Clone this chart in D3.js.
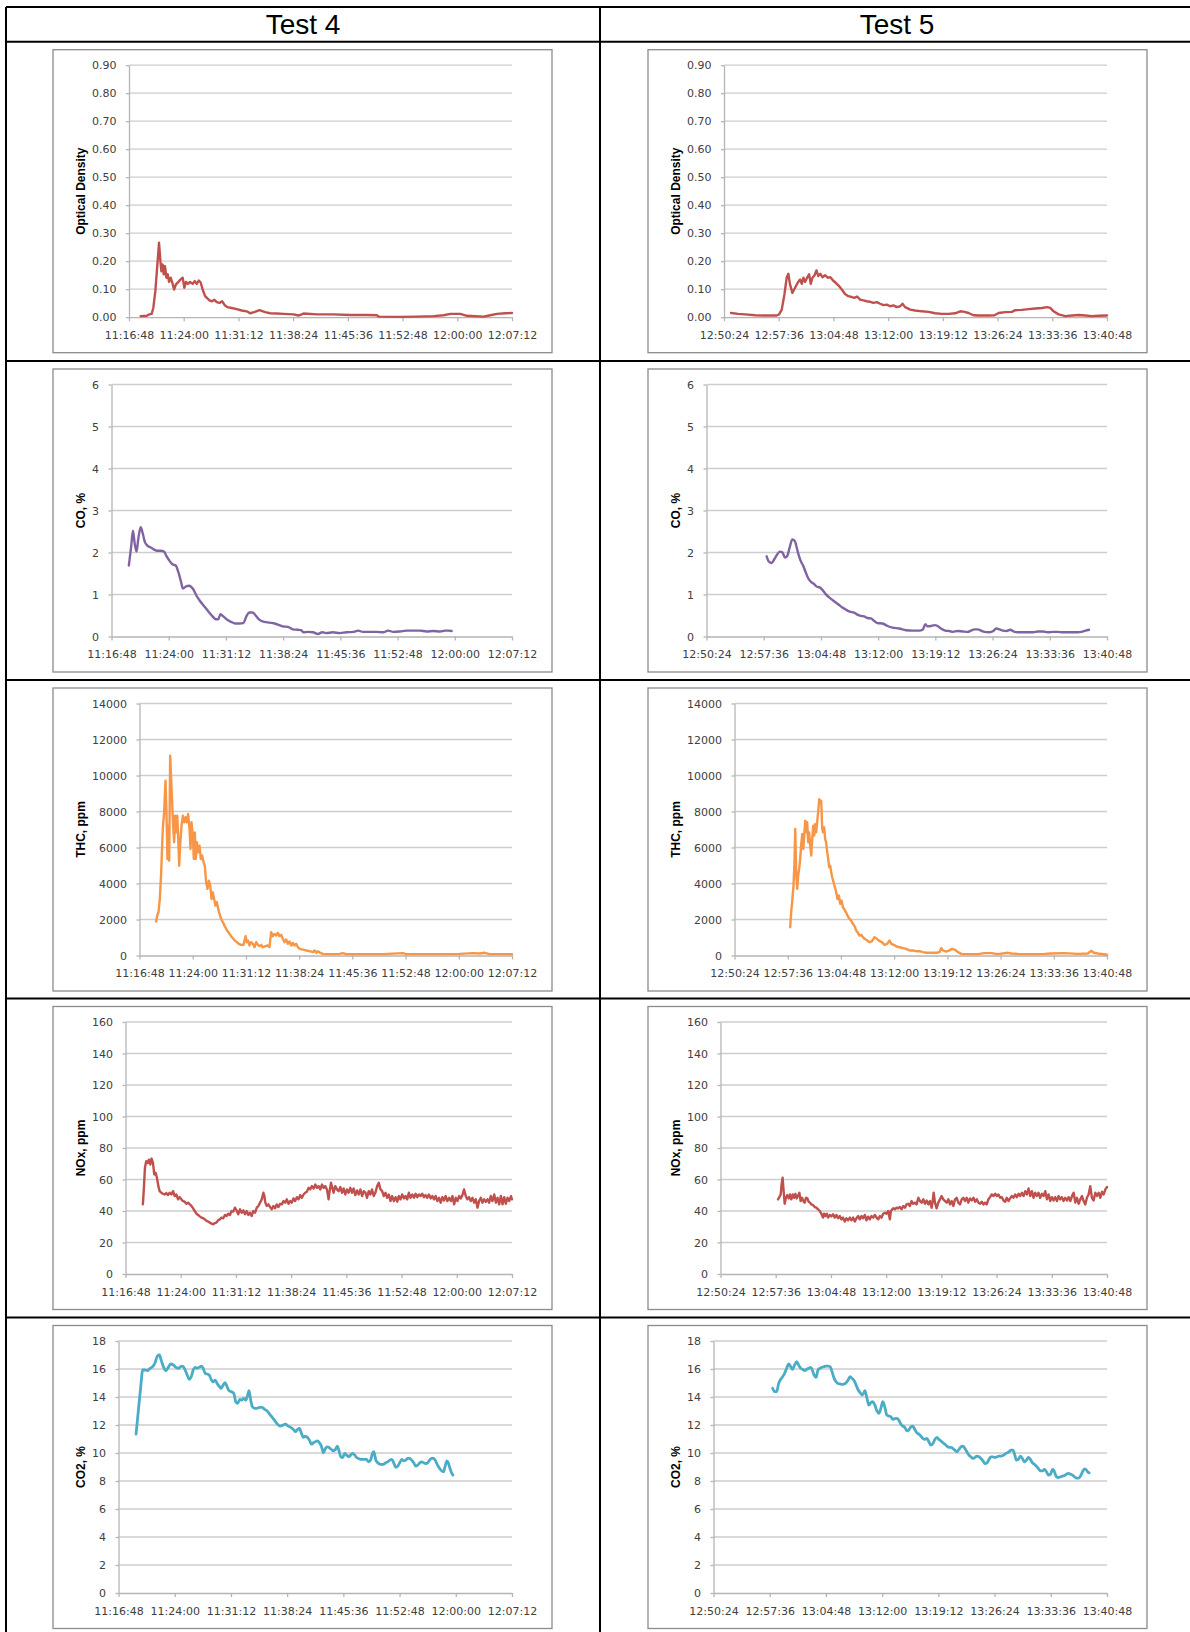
<!DOCTYPE html>
<html>
<head>
<meta charset="utf-8">
<script src="https://cdn.jsdelivr.net/npm/d3@7"></script>
<style>
  body { margin: 0; background: #fff; }
  svg { display: block; }
  .tick-label { font-family: "DejaVu Sans", sans-serif; font-size: 11px; fill: #404040; }
  .axis-title { font-family: "Liberation Sans", Arial, sans-serif; font-size: 12px; font-weight: bold; fill: #000; }
  .head { font-family: "Liberation Sans", Arial, sans-serif; font-size: 28px; fill: #000; }
</style>
</head>
<body>
<svg id="page" width="1190" height="1632"></svg>
<script>
// Emission test comparison - two tests side by side, five measured quantities
// Each series: [seconds after the axis start, value]

const testNames = ["Test 4", "Test 5"];
const testStarts = ["11:16:48", "12:50:24"];
const axisStepSec = 432;   // 7:12 between x ticks
const axisSteps = 7;

const rowLabels = ["Optical Density", "CO, %", "THC, ppm", "NOx, ppm", "CO2, %"];
const rowMax = [0.9, 6, 14000, 160, 18];
const rowStep = [0.1, 1, 2000, 20, 2];
const rowFormat = [".2f", "d", "d", "d", "d"];

const od4 = [[92,0.004],[140,0.005],[161,0.01],[179,0.012],[192,0.033],[208,0.093],[224,0.188],[237,0.266],[248,0.2],[256,0.164],[266,0.188],[274,0.153],[284,0.182],[295,0.141],[306,0.153],[316,0.126],[329,0.141],[342,0.123],[356,0.099],[371,0.117],[390,0.126],[408,0.135],[424,0.141],[437,0.105],[450,0.126],[466,0.119],[482,0.126],[503,0.119],[519,0.129],[535,0.119],[551,0.131],[566,0.124],[582,0.098],[601,0.075],[619,0.067],[635,0.06],[656,0.057],[674,0.062],[693,0.054],[714,0.051],[735,0.057],[756,0.043],[777,0.036],[811,0.033],[851,0.029],[890,0.024],[930,0.021],[956,0.014],[988,0.018],[1030,0.025],[1075,0.018],[1114,0.014],[1167,0.013],[1220,0.012],[1299,0.01],[1338,0.006],[1378,0.013],[1483,0.01],[1615,0.01],[1746,0.008],[1878,0.008],[1957,0.007],[1973,0.002],[2141,0.001],[2273,0.002],[2405,0.004],[2484,0.007],[2537,0.012],[2616,0.012],[2668,0.005],[2800,0.002],[2853,0.007],[2905,0.012],[2971,0.014],[3024,0.015]];

const od5 = [[55,0.015],[113,0.012],[166,0.01],[245,0.007],[324,0.006],[416,0.006],[435,0.01],[456,0.027],[477,0.081],[495,0.141],[508,0.155],[521,0.117],[540,0.087],[561,0.105],[582,0.123],[601,0.135],[614,0.119],[627,0.141],[640,0.126],[656,0.141],[672,0.153],[685,0.119],[698,0.141],[714,0.149],[730,0.167],[745,0.147],[761,0.155],[777,0.143],[798,0.15],[819,0.141],[840,0.143],[861,0.131],[882,0.123],[903,0.114],[930,0.099],[956,0.083],[982,0.075],[1009,0.072],[1030,0.069],[1051,0.074],[1075,0.063],[1101,0.06],[1127,0.057],[1154,0.055],[1180,0.051],[1206,0.054],[1233,0.048],[1259,0.043],[1285,0.045],[1312,0.039],[1338,0.042],[1364,0.036],[1391,0.039],[1409,0.048],[1430,0.036],[1470,0.027],[1509,0.024],[1562,0.021],[1615,0.019],[1667,0.014],[1720,0.012],[1773,0.012],[1825,0.014],[1865,0.021],[1891,0.02],[1931,0.015],[1970,0.007],[2010,0.006],[2089,0.006],[2136,0.007],[2168,0.015],[2220,0.018],[2273,0.019],[2300,0.025],[2352,0.026],[2405,0.029],[2458,0.031],[2510,0.033],[2550,0.036],[2576,0.033],[2602,0.021],[2642,0.01],[2695,0.004],[2747,0.006],[2800,0.008],[2853,0.006],[2905,0.004],[2958,0.005],[3024,0.006]];

const co4 = [[131,1.69],[149,2.16],[162,2.52],[174,2.24],[189,2.02],[202,2.32],[220,2.6],[237,2.44],[253,2.24],[273,2.16],[296,2.12],[321,2.07],[346,2.04],[371,2.04],[397,2.02],[414,1.92],[434,1.82],[460,1.72],[485,1.69],[505,1.53],[523,1.33],[540,1.14],[561,1.19],[586,1.21],[616,1.13],[642,0.97],[667,0.85],[700,0.72],[733,0.59],[763,0.48],[788,0.41],[806,0.41],[823,0.53],[844,0.48],[869,0.41],[902,0.35],[935,0.31],[965,0.31],[995,0.32],[1020,0.49],[1040,0.57],[1066,0.57],[1091,0.49],[1116,0.4],[1154,0.35],[1192,0.33],[1230,0.31],[1268,0.27],[1293,0.24],[1331,0.23],[1369,0.17],[1407,0.16],[1432,0.15],[1450,0.1],[1483,0.11],[1521,0.1],[1559,0.06],[1591,0.1],[1621,0.08],[1672,0.1],[1723,0.08],[1773,0.1],[1824,0.11],[1862,0.14],[1899,0.11],[1950,0.11],[2001,0.11],[2051,0.1],[2089,0.14],[2127,0.11],[2177,0.12],[2228,0.14],[2278,0.14],[2329,0.14],[2379,0.12],[2430,0.13],[2480,0.12],[2518,0.14],[2543,0.14],[2568,0.13]];

const co5 = [[454,1.91],[472,1.78],[492,1.75],[512,1.84],[535,1.96],[555,2.02],[573,2.0],[593,1.88],[610,1.92],[628,2.12],[648,2.31],[666,2.28],[678,2.16],[694,1.96],[711,1.8],[729,1.69],[749,1.53],[769,1.38],[789,1.3],[812,1.25],[830,1.19],[855,1.17],[875,1.11],[900,1.01],[926,0.93],[951,0.87],[976,0.81],[1001,0.75],[1026,0.69],[1052,0.64],[1082,0.59],[1115,0.57],[1140,0.52],[1165,0.49],[1190,0.48],[1216,0.44],[1241,0.43],[1266,0.37],[1291,0.32],[1329,0.31],[1367,0.25],[1405,0.21],[1455,0.19],[1506,0.15],[1556,0.14],[1607,0.14],[1632,0.16],[1652,0.29],[1670,0.24],[1695,0.25],[1720,0.27],[1745,0.25],[1770,0.19],[1803,0.14],[1833,0.13],[1859,0.11],[1897,0.13],[1934,0.12],[1972,0.11],[1997,0.14],[2023,0.17],[2048,0.17],[2073,0.14],[2098,0.11],[2136,0.1],[2166,0.13],[2187,0.19],[2212,0.17],[2237,0.14],[2267,0.13],[2292,0.16],[2325,0.11],[2363,0.1],[2413,0.1],[2464,0.1],[2502,0.12],[2540,0.12],[2577,0.1],[2615,0.11],[2653,0.11],[2691,0.1],[2729,0.1],[2767,0.1],[2805,0.1],[2830,0.11],[2862,0.14],[2888,0.16]];

const thc4 = [[135,1890],[144,2220],[154,2400],[165,3140],[176,4620],[189,7030],[200,7950],[211,9710],[219,7950],[227,5360],[235,7210],[241,5270],[249,11100],[257,9800],[265,8510],[273,7210],[281,6290],[289,7770],[298,6840],[306,7770],[314,6660],[322,4990],[330,6100],[341,7210],[352,7770],[363,7400],[374,7680],[384,7400],[395,7860],[406,7030],[414,5920],[422,7400],[433,6660],[441,5360],[449,6840],[457,5360],[466,6290],[476,5730],[487,6100],[498,5360],[509,5550],[520,5180],[530,4990],[541,4070],[552,3700],[563,4160],[574,3880],[585,3140],[595,3510],[606,3140],[617,2770],[628,2960],[639,2590],[650,2310],[663,2030],[677,1850],[690,1660],[704,1480],[717,1330],[731,1200],[744,1070],[758,960],[774,830],[790,740],[806,650],[825,590],[844,590],[861,1070],[871,740],[882,830],[893,555],[906,740],[920,650],[934,460],[947,740],[961,590],[974,520],[988,590],[1001,460],[1023,520],[1042,555],[1055,460],[1069,1295],[1082,1070],[1096,1200],[1110,1110],[1123,1260],[1137,1070],[1150,1150],[1164,925],[1177,740],[1191,890],[1204,650],[1218,780],[1232,555],[1245,700],[1259,555],[1272,650],[1286,460],[1300,370],[1326,330],[1353,280],[1380,240],[1408,185],[1421,280],[1435,150],[1448,240],[1467,150],[1489,90],[1530,75],[1570,75],[1624,90],[1651,130],[1678,75],[1733,75],[1841,75],[1976,75],[2138,130],[2165,75],[2301,75],[2463,75],[2598,90],[2707,130],[2761,110],[2802,150],[2842,75],[2923,75],[3024,75]];

const thc5 = [[452,1570],[460,2400],[468,2960],[479,3880],[487,5180],[493,7030],[501,4620],[509,3700],[517,4440],[525,4810],[533,5360],[541,6100],[550,6750],[558,5920],[566,6660],[574,7490],[582,6840],[590,7400],[598,6290],[606,6840],[615,6100],[623,5550],[631,6470],[639,7210],[647,6660],[655,7300],[663,6840],[671,7400],[679,7950],[688,8690],[696,8510],[704,8600],[712,7030],[720,6840],[728,7120],[736,6470],[744,6290],[753,5730],[761,5360],[769,4900],[777,4990],[785,4620],[793,4350],[804,4070],[815,3790],[826,3510],[836,3140],[847,3330],[858,2870],[869,3050],[880,2680],[893,2550],[907,2370],[920,2180],[934,2030],[947,1940],[961,1760],[975,1630],[988,1390],[1002,1260],[1015,1110],[1029,1150],[1042,1020],[1056,925],[1077,830],[1096,740],[1115,780],[1137,1020],[1156,925],[1175,810],[1196,740],[1218,590],[1240,650],[1259,830],[1272,650],[1294,590],[1316,500],[1340,460],[1367,410],[1394,370],[1421,280],[1448,280],[1475,240],[1502,240],[1529,185],[1557,150],[1597,150],[1638,150],[1665,185],[1678,410],[1692,280],[1719,220],[1746,280],[1765,370],[1787,330],[1814,185],[1841,90],[1895,75],[1976,75],[2030,130],[2084,130],[2138,75],[2220,150],[2247,110],[2301,90],[2382,75],[2517,90],[2571,110],[2680,130],[2788,90],[2869,110],[2896,260],[2918,150],[2950,110],[3024,40]];

const nox4 = [[136,44.2],[144,54.7],[152,67.4],[162,71.6],[173,70.5],[183,72.6],[194,69.5],[204,73.3],[215,70.5],[225,63.2],[236,64.2],[246,61.1],[257,55.8],[267,52.6],[280,51.6],[293,50.9],[306,50.5],[319,51.4],[332,50.1],[346,51.6],[359,50.5],[372,52.6],[385,49.5],[398,50.5],[411,47.4],[424,48.8],[437,47.4],[450,46.3],[463,45.9],[476,44.6],[490,45.3],[503,44.2],[516,43.2],[529,41.7],[542,40],[555,38.3],[568,37.5],[581,36.6],[594,35.8],[607,35.4],[620,34.7],[634,33.7],[647,33.3],[660,32.6],[673,32],[686,31.6],[699,32.4],[712,32.6],[725,34.1],[738,34.7],[751,35.8],[765,35.4],[778,37.5],[791,36.8],[804,38.3],[817,37.5],[830,40],[843,39.6],[856,42.1],[869,40.4],[882,37.9],[896,41.1],[909,38.9],[922,40.4],[935,37.9],[948,40],[961,37.5],[974,38.9],[987,36.8],[1000,40],[1014,38.9],[1027,42.1],[1040,43.2],[1053,45.3],[1066,47.4],[1079,51.6],[1087,49.5],[1094,45.3],[1105,43.2],[1118,44.2],[1131,42.5],[1144,41.1],[1157,43.2],[1170,41.7],[1183,44.2],[1196,42.5],[1210,44.6],[1223,44.2],[1236,46.3],[1249,45.3],[1262,47.4],[1275,44.6],[1288,46.3],[1301,45.3],[1314,48],[1327,46.3],[1341,48.8],[1354,47.4],[1367,50.1],[1380,48.4],[1393,50.5],[1406,51.6],[1419,52.2],[1432,54.7],[1445,53.7],[1458,55.8],[1472,54.3],[1485,56.8],[1498,54.7],[1511,55.8],[1524,53.7],[1537,56.8],[1550,54.7],[1563,55.8],[1576,53.7],[1589,47.4],[1597,52.6],[1608,57.9],[1618,54.7],[1628,51.6],[1641,55.8],[1655,53.7],[1668,52.6],[1681,55.2],[1694,51.6],[1707,54.3],[1720,50.5],[1733,53.7],[1746,51.6],[1759,54.7],[1772,51.6],[1785,54.3],[1798,50.1],[1812,53.1],[1825,50.5],[1838,53.7],[1851,49.5],[1864,52.6],[1877,51.6],[1890,48.4],[1903,52.6],[1916,50.5],[1929,53.7],[1942,49.5],[1955,51.6],[1969,55.8],[1982,57.9],[1995,53.7],[2008,52.6],[2021,49.5],[2034,51.6],[2047,48.4],[2060,50.5],[2073,46.3],[2086,49.5],[2100,46.3],[2113,48.8],[2126,45.9],[2139,49.5],[2152,47.4],[2165,50.5],[2178,48],[2191,49.5],[2204,47.4],[2217,51.6],[2230,48.4],[2244,50.5],[2257,48.4],[2270,50.9],[2283,48.8],[2296,50.5],[2309,49.5],[2322,50.9],[2335,48.8],[2348,50.1],[2361,48.4],[2374,50.5],[2388,48],[2401,49.5],[2414,47.4],[2427,49.5],[2440,46.3],[2453,48.4],[2466,45.3],[2479,48.8],[2492,46.7],[2505,49.5],[2518,46.3],[2532,48.4],[2545,46.3],[2558,49.5],[2571,44.2],[2584,48.4],[2597,46.3],[2610,49.5],[2623,48],[2636,50.1],[2649,53.7],[2662,49.5],[2675,47.4],[2688,48.8],[2701,46.3],[2715,48.4],[2728,45.3],[2741,47.4],[2754,42.1],[2767,46.3],[2780,48.4],[2793,45.3],[2806,47.4],[2819,45.9],[2832,47.4],[2845,45.3],[2858,49.5],[2871,46.3],[2885,50.5],[2898,45.3],[2911,48.4],[2924,44.2],[2937,49.5],[2950,44.2],[2963,48.8],[2976,44.6],[2989,48.4],[3002,46.3],[3016,49.5],[3024,47.4]];

const nox5 = [[450,47.4],[460,48.8],[471,50.5],[478,56.8],[486,61.1],[494,52.6],[502,44.6],[512,48.4],[523,50.1],[533,48],[544,50.5],[554,47.4],[565,50.5],[575,48.4],[586,50.9],[596,48],[606,49.5],[617,51.6],[627,46.3],[638,48.4],[648,46.3],[659,45.3],[669,48.4],[680,48],[690,45.9],[700,45.3],[711,44.2],[724,43.8],[737,42.5],[750,42.1],[763,41.1],[776,40],[789,38.3],[802,35.8],[810,38.3],[821,36.8],[831,38.3],[842,35.8],[855,37.5],[868,36.6],[881,37.9],[894,35.8],[907,37.5],[920,35.4],[933,36.8],[946,34.7],[959,35.8],[972,33.3],[985,35.4],[998,34.1],[1012,35.8],[1025,34.1],[1038,35.8],[1051,33.3],[1064,35.4],[1077,36.8],[1090,34.7],[1103,36.8],[1116,35.4],[1129,37.5],[1142,34.1],[1155,36.4],[1168,34.7],[1181,36.8],[1195,35.8],[1208,37.5],[1221,35.8],[1234,34.7],[1247,36.8],[1260,35.8],[1273,38.3],[1286,38.9],[1299,38.3],[1312,40],[1325,34.7],[1333,40],[1344,41.1],[1354,41.7],[1365,41.1],[1378,42.1],[1391,41.7],[1404,42.5],[1417,41.1],[1430,43.2],[1443,42.1],[1456,44.2],[1469,44.6],[1482,43.2],[1495,46.3],[1508,44.6],[1521,45.3],[1534,44.2],[1548,48.4],[1561,46.3],[1574,45.3],[1587,47.4],[1600,44.6],[1613,46.7],[1626,44.2],[1639,46.3],[1652,42.1],[1660,46.3],[1668,51.6],[1678,45.3],[1691,41.7],[1704,45.3],[1717,47.4],[1730,49.5],[1743,47.4],[1757,46.3],[1770,45.3],[1783,47.4],[1796,44.2],[1809,46.3],[1822,43.2],[1835,47.4],[1848,48.4],[1861,45.3],[1874,44.2],[1887,47.4],[1900,48.4],[1913,46.3],[1926,48.4],[1939,45.3],[1952,48],[1966,46.7],[1979,48.4],[1992,45.9],[2005,47.4],[2018,45.3],[2031,44.6],[2044,45.9],[2057,44.2],[2070,45.3],[2083,44.2],[2096,47.4],[2109,48.8],[2122,50.5],[2136,49.5],[2149,50.9],[2162,49.5],[2175,50.5],[2188,48.4],[2201,48.8],[2214,46.7],[2227,45.9],[2240,48.4],[2253,46.3],[2266,48],[2279,49.5],[2292,48.4],[2305,50.5],[2318,48.8],[2332,50.9],[2345,49.5],[2358,51.6],[2371,49.5],[2384,52.6],[2397,50.5],[2410,54.3],[2423,49.5],[2436,52.6],[2449,48.4],[2462,51.6],[2475,49.5],[2488,51.6],[2501,48.4],[2515,50.9],[2528,49.5],[2541,52.6],[2554,47.4],[2567,50.5],[2580,46.3],[2593,48.8],[2606,46.7],[2619,48.8],[2632,46.3],[2645,49.5],[2658,47.4],[2671,48.8],[2684,46.3],[2697,48.4],[2711,46.7],[2724,48.8],[2737,46.3],[2750,49.5],[2763,51.6],[2776,45.3],[2789,48.4],[2802,44.6],[2815,47.4],[2828,49.5],[2841,46.3],[2854,44.2],[2867,48.4],[2880,50.5],[2893,55.8],[2906,48.4],[2919,46.7],[2933,51.6],[2946,49.5],[2959,51.6],[2972,48.4],[2985,52.2],[2998,50.5],[3011,53.7],[3024,55.2]];

const co2_4 = [[135,11.35],[153,13.07],[171,14.74],[186,15.93],[204,15.93],[222,15.88],[242,16.05],[263,16.17],[281,16.45],[299,16.93],[314,17.0],[329,16.6],[345,16.17],[365,15.88],[383,16.12],[401,16.36],[421,16.29],[442,16.12],[460,16.05],[477,16.17],[493,16.21],[510,15.98],[528,15.57],[544,15.26],[559,15.45],[574,15.93],[590,16.12],[605,16.05],[620,16.12],[638,16.21],[651,16.05],[666,15.69],[681,15.64],[697,15.57],[712,15.26],[727,15.09],[743,15.21],[758,14.97],[773,14.78],[789,14.62],[804,14.85],[819,15.02],[834,14.74],[850,14.45],[868,14.38],[886,14.26],[901,13.66],[916,13.54],[932,13.83],[947,13.78],[962,13.9],[978,13.78],[993,14.14],[1003,14.45],[1016,13.78],[1029,13.3],[1046,13.19],[1064,13.19],[1085,13.26],[1105,13.26],[1123,13.11],[1141,13.02],[1161,12.78],[1182,12.54],[1202,12.3],[1222,12.06],[1243,11.92],[1263,11.99],[1283,12.06],[1304,11.92],[1324,11.83],[1345,11.68],[1360,11.52],[1375,11.68],[1391,11.75],[1406,11.4],[1421,11.11],[1437,11.21],[1452,11.11],[1467,10.92],[1483,10.63],[1498,10.73],[1513,10.8],[1529,10.87],[1544,10.73],[1559,10.49],[1575,10.01],[1590,10.32],[1605,10.44],[1621,10.37],[1636,10.25],[1651,10.16],[1667,10.25],[1682,10.49],[1692,10.25],[1708,9.73],[1723,9.68],[1738,9.97],[1753,9.85],[1769,9.73],[1784,9.85],[1799,9.97],[1815,9.85],[1830,9.68],[1845,9.61],[1860,9.54],[1876,9.54],[1891,9.54],[1906,9.54],[1922,9.37],[1937,9.49],[1952,9.97],[1962,10.09],[1978,9.49],[1993,9.3],[2008,9.2],[2024,9.18],[2039,9.2],[2054,9.3],[2069,9.37],[2085,9.49],[2100,9.54],[2115,9.3],[2131,8.97],[2146,9.06],[2161,9.3],[2177,9.54],[2192,9.44],[2207,9.49],[2223,9.61],[2238,9.61],[2253,9.49],[2269,9.3],[2284,9.06],[2299,9.13],[2315,9.3],[2330,9.37],[2345,9.3],[2360,9.25],[2376,9.3],[2391,9.49],[2406,9.61],[2422,9.61],[2437,9.44],[2452,9.13],[2468,8.89],[2483,8.73],[2498,8.66],[2509,9.01],[2524,9.44],[2534,9.3],[2545,8.97],[2560,8.58],[2570,8.42]];

const co2_5 = [[454,14.62],[470,14.38],[485,14.38],[501,14.97],[516,15.26],[531,15.45],[547,15.69],[562,16.05],[578,16.36],[593,16.17],[608,15.98],[624,16.29],[639,16.52],[654,16.29],[670,16.05],[685,15.98],[701,15.88],[716,15.98],[732,16.05],[747,16.12],[757,15.98],[773,15.57],[788,15.4],[803,15.93],[819,16.05],[834,16.12],[850,16.17],[865,16.21],[880,16.21],[896,16.17],[911,15.81],[927,15.33],[942,15.09],[957,14.97],[973,14.93],[988,14.9],[1004,14.93],[1019,15.02],[1034,15.21],[1050,15.45],[1065,15.33],[1081,15.16],[1096,14.85],[1112,14.5],[1127,14.31],[1142,14.14],[1153,14.26],[1163,14.45],[1178,13.97],[1194,13.42],[1209,13.59],[1224,13.66],[1240,13.42],[1255,13.02],[1271,12.83],[1286,13.19],[1301,13.66],[1317,13.26],[1332,12.71],[1348,12.64],[1363,12.59],[1378,12.4],[1393,12.45],[1409,12.47],[1424,12.35],[1440,12.06],[1455,11.92],[1470,11.83],[1486,11.59],[1501,11.64],[1517,11.87],[1532,11.92],[1547,11.68],[1563,11.44],[1578,11.35],[1593,11.21],[1609,11.04],[1624,10.97],[1640,11.04],[1655,10.8],[1670,10.56],[1686,10.68],[1701,10.97],[1717,11.11],[1732,10.97],[1747,10.87],[1763,10.73],[1778,10.63],[1794,10.49],[1809,10.4],[1824,10.4],[1840,10.32],[1855,10.2],[1871,10.09],[1886,10.25],[1901,10.44],[1917,10.49],[1932,10.32],[1947,10.09],[1963,9.85],[1978,9.73],[1994,9.61],[2009,9.68],[2024,9.78],[2040,9.73],[2055,9.61],[2071,9.44],[2086,9.25],[2102,9.3],[2117,9.54],[2132,9.73],[2148,9.73],[2163,9.68],[2179,9.73],[2194,9.78],[2210,9.78],[2225,9.82],[2240,9.92],[2256,10.01],[2271,10.09],[2287,10.2],[2302,10.2],[2312,9.97],[2328,9.49],[2343,9.54],[2358,9.78],[2374,9.61],[2389,9.37],[2405,9.49],[2420,9.68],[2435,9.54],[2451,9.3],[2466,9.2],[2481,9.06],[2497,8.89],[2512,8.73],[2528,8.73],[2543,8.82],[2559,8.66],[2574,8.42],[2590,8.49],[2605,8.82],[2615,8.77],[2626,8.49],[2636,8.3],[2651,8.25],[2667,8.3],[2682,8.35],[2697,8.39],[2713,8.49],[2728,8.54],[2744,8.49],[2759,8.42],[2774,8.3],[2790,8.2],[2805,8.2],[2821,8.35],[2836,8.66],[2851,8.87],[2862,8.82],[2877,8.63],[2887,8.58]];

const rowSeries = [[od4, od5], [co4, co5], [thc4, thc5], [nox4, nox5], [co2_4, co2_5]];
const rowColors = ["#c0504d", "#8064a2", "#f79646", "#c0504d", "#4bacc6"];
const rowSmooth = [false, true, false, false, true];

// page layout
const tableLeft = 6, tableRight = 1194, tableTop = 7, headBottom = 41.7, colSplit = 600;
const rowTops = [41.7, 361, 680, 998.5, 1317.5];
const rowHeight = 319;
const frameLeft = [53, 648];
const frameW = 499, frameH = 303;

const parseClock = d3.timeParse("%H:%M:%S");
const fmtClock = d3.timeFormat("%H:%M:%S");

const svg = d3.select("#page");
svg.append("rect").attr("width", 1190).attr("height", 1632).attr("fill", "#fff");

function drawPanel(fx, fy, r, c) {
    const g = svg.append("g");
    const t0 = parseClock(testStarts[c]);
    const xTicks = d3.range(axisSteps + 1).map(i => d3.timeSecond.offset(t0, i * axisStepSec));
    const yTicks = d3.range(0, rowMax[r] + rowStep[r] / 2, rowStep[r]);
    const yFmt = d3.format(rowFormat[r]);

    g.append("rect")
        .attr("x", fx).attr("y", fy)
        .attr("width", frameW).attr("height", frameH)
        .attr("fill", "#fff")
        .attr("stroke", "#8c8c8c")
        .attr("stroke-width", 1.3);

    // widest y label decides where the plot starts
    const probe = g.append("text").attr("class", "tick-label");
    let maxW = 0;
    yTicks.forEach(v => {
        probe.text(yFmt(v));
        maxW = Math.max(maxW, probe.node().getComputedTextLength());
    });
    probe.remove();

    const left = fx + 39 + maxW + 12.5;
    const right = fx + 459;
    const top = fy + 15.5;
    const bottom = top + 252;

    const x = d3.scaleTime().domain([xTicks[0], xTicks[xTicks.length - 1]]).range([left, right]);
    const y = d3.scaleLinear().domain([0, rowMax[r]]).range([bottom, top]);

    // gridlines
    g.append("g").selectAll("line")
        .data(yTicks.slice(1))
        .join("line")
        .attr("x1", left).attr("x2", right)
        .attr("y1", d => y(d)).attr("y2", d => y(d))
        .attr("stroke", "#cdcdcd")
        .attr("stroke-width", 1.3);

    const yAxis = g.append("g")
        .attr("transform", `translate(${left},0)`)
        .call(d3.axisLeft(y).tickValues(yTicks).tickFormat(yFmt).tickSize(3).tickPadding(9.5).tickSizeOuter(0));
    yAxis.select(".domain").attr("stroke", "#b5b5b5").attr("stroke-width", 1.3);
    yAxis.selectAll(".tick line").attr("stroke", "#b5b5b5").attr("stroke-width", 1.3);
    yAxis.selectAll(".tick text").attr("class", "tick-label").attr("font-family", null).attr("font-size", null);

    const xAxis = g.append("g")
        .attr("transform", `translate(0,${bottom})`)
        .call(d3.axisBottom(x).tickValues(xTicks).tickFormat(fmtClock).tickSize(4).tickPadding(10).tickSizeOuter(0));
    xAxis.select(".domain").attr("stroke", "#b5b5b5").attr("stroke-width", 1.3);
    xAxis.selectAll(".tick line").attr("stroke", "#b5b5b5").attr("stroke-width", 1.3);
    xAxis.selectAll(".tick text").attr("class", "tick-label").attr("font-family", null).attr("font-size", null);

    g.append("text")
        .attr("class", "axis-title")
        .attr("transform", `translate(${fx + 27.7},${(top + bottom) / 2}) rotate(-90)`)
        .attr("text-anchor", "middle")
        .attr("dy", "0.35em")
        .text(rowLabels[r]);

    const line = d3.line()
        .x(d => x(d3.timeSecond.offset(t0, d[0])))
        .y(d => y(d[1]))
        .curve(rowSmooth[r] ? d3.curveMonotoneX : d3.curveLinear);

    g.append("path")
        .datum(rowSeries[r][c])
        .attr("d", line)
        .attr("fill", "none")
        .attr("stroke", rowColors[r])
        .attr("stroke-width", r === 4 ? 2.8 : 2.4)
        .attr("stroke-linejoin", "round")
        .attr("stroke-linecap", "round");
}

rowTops.forEach((rt, r) => {
    [0, 1].forEach(c => drawPanel(frameLeft[c], rt + 8, r, c));
});

// table grid
const grid = svg.append("g").attr("stroke", "#000").attr("stroke-width", 2);
[tableTop, headBottom, ...rowTops.slice(1), rowTops[4] + rowHeight].forEach(yy => {
    grid.append("line").attr("x1", tableLeft).attr("x2", tableRight).attr("y1", yy).attr("y2", yy);
});
[tableLeft, colSplit, tableRight].forEach(xx => {
    grid.append("line").attr("x1", xx).attr("x2", xx).attr("y1", tableTop).attr("y2", rowTops[4] + rowHeight);
});

svg.selectAll(".head")
    .data(testNames)
    .join("text")
    .attr("class", "head")
    .attr("x", (d, i) => i === 0 ? (tableLeft + colSplit) / 2 : (colSplit + tableRight) / 2)
    .attr("y", 34.3)
    .attr("text-anchor", "middle")
    .text(d => d);
</script>
</body>
</html>
